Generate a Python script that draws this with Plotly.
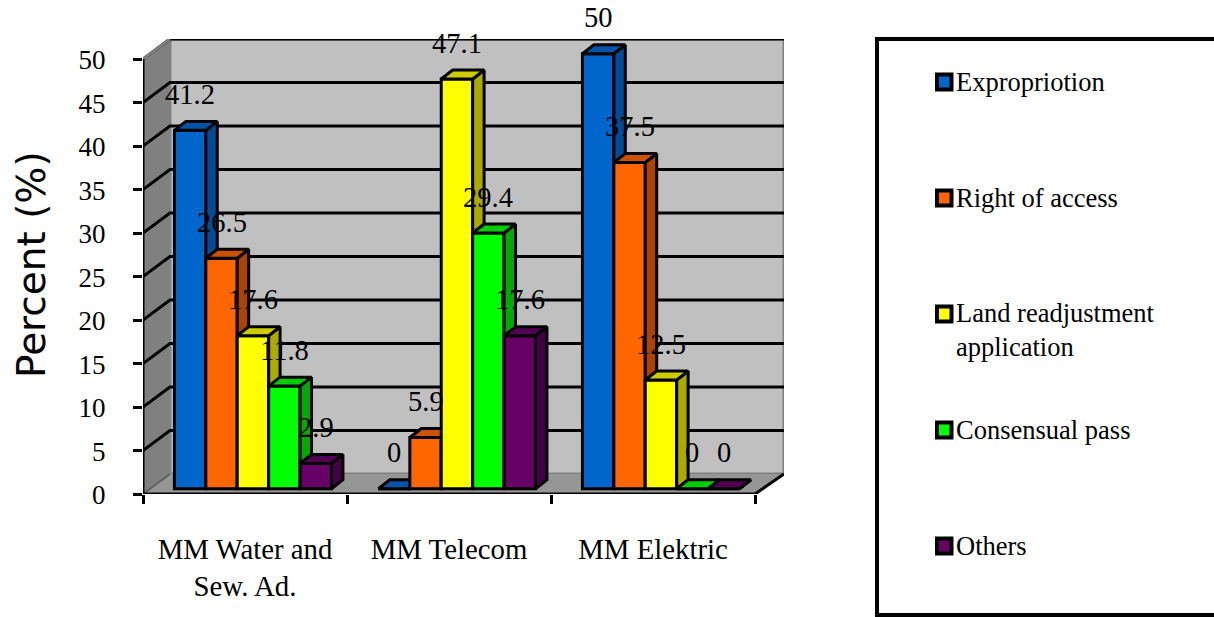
import plotly.graph_objects as go

W, H = 1214, 617

# Chart data
categories = ["MM Water and<br>Sew. Ad.", "MM Telecom", "MM Elektric"]
series_names = ["Expropriotion", "Right of access",
                "Land readjustment<br>application", "Consensual pass", "Others"]
expropriation = [41.2, 0, 50]
right_of_access = [26.5, 5.9, 37.5]
land_readjustment = [17.6, 47.1, 12.5]
consensual_pass = [11.8, 29.4, 0]
others = [2.9, 17.6, 0]
series_values = [expropriation, right_of_access, land_readjustment, consensual_pass, others]
y_ticks = [0, 5, 10, 15, 20, 25, 30, 35, 40, 45, 50]

# Face colours: front, top, side
front_colors = ["#0066CC", "#FF6600", "#FFFF00", "#00FF00", "#660066"]
top_colors = ["#0055AA", "#CC5200", "#CCCC00", "#00CC00", "#520052"]
side_colors = ["#004C99", "#AA4400", "#AAAA00", "#00AA00", "#440044"]

SERIF = "Liberation Serif"

# Projection constants in axis units
X_LO, X_HI = -0.5, 2.5
X_END = 2.642
Y_END = 52.3
WALL_DX, WALL_DY = 0.132, 2.3
BAR_W = 0.154
FRONT_DX, FRONT_DY = 0.039, 0.6
BAR_DX, BAR_DY = 0.056, 1.03
INK = "#000000"

fig = go.Figure()


def poly(xs, ys, fill, line="rgba(0,0,0,0)", width=0, **kw):
    return go.Scatter(x=xs, y=ys, mode="lines", fill="toself", fillcolor=fill,
                      line=dict(color=line, width=width), hoverinfo="skip",
                      showlegend=False, **kw)


def stroke(xs, ys, color=INK, width=3):
    return go.Scatter(x=xs, y=ys, mode="lines", line=dict(color=color, width=width),
                      hoverinfo="skip", showlegend=False, cliponaxis=False)


# Room: back wall, left wall, floor
bx0, by0, by1 = X_LO + WALL_DX, WALL_DY, Y_END
fig.add_trace(poly([bx0, X_END, X_END, bx0, bx0], [by0, by0, by1, by1, by0], "#C0C0C0",
                   line="#808080", width=3))
fig.add_trace(poly([X_LO, bx0, bx0, X_LO, X_LO], [0, by0, by1, 50, 0], "#808080"))
fig.add_trace(poly([X_LO, X_HI, X_END, bx0, X_LO], [0, 0, by0, by0, 0], "#969696"))

# Gridlines run across the left wall and the back wall
for v in y_ticks[1:]:
    fig.add_trace(stroke([X_LO, bx0, X_END], [v, v + WALL_DY, v + WALL_DY]))

# Room outline and axis lines
fig.add_trace(stroke([X_LO, bx0], [50, by1], color="#808080"))
fig.add_trace(stroke([X_LO, bx0], [0, by0], color="#606060", width=2))
fig.add_trace(stroke([X_HI, X_END], [0, by0]))
fig.add_trace(stroke([X_LO, X_LO], [0, 50]))
fig.add_trace(stroke([X_LO, X_HI], [0, 0]))

# Each series sits on its own overlaid axis pair, so a later bar covers
# the side face of the bar to its left.
annotations = []
for i, (name, values) in enumerate(zip(series_names, series_values)):
    n = i + 2
    xa, ya = f"x{n}", f"y{n}"
    lefts = [c + FRONT_DX + (i - 2.5) * BAR_W for c in range(len(categories))]
    centers = [l + BAR_W / 2 for l in lefts]
    fig.add_trace(go.Bar(x=centers, y=values, base=[FRONT_DY] * len(values), width=BAR_W,
                         name=name.replace("<br>", " "), xaxis=xa, yaxis=ya, showlegend=False,
                         marker=dict(color=front_colors[i], line=dict(color=INK, width=3))))
    top_x, top_y, side_x, side_y = [], [], [], []
    for l, v in zip(lefts, values):
        r = l + BAR_W
        t = FRONT_DY + v
        top_x += [l, l + BAR_DX, r + BAR_DX, r, l, None]
        top_y += [t, t + BAR_DY, t + BAR_DY, t, t, None]
        side_x += [r, r + BAR_DX, r + BAR_DX, r, r, None]
        side_y += [FRONT_DY, FRONT_DY + BAR_DY, t + BAR_DY, t, FRONT_DY, None]
    fig.add_trace(poly(side_x, side_y, side_colors[i], line=INK, width=3, xaxis=xa, yaxis=ya))
    fig.add_trace(poly(top_x, top_y, top_colors[i], line=INK, width=3, xaxis=xa, yaxis=ya))
    for c, v in zip(centers, values):
        annotations.append(dict(x=c, y=FRONT_DY + v, xref="x", yref="y", text=f"{v:g}",
                                showarrow=False, yshift=36, xanchor="center", yanchor="middle",
                                font=dict(family=SERIF, size=28.5, color="#000000")))

layout = dict(
    width=W, height=H, margin=dict(l=0, r=0, t=0, b=0, pad=0, autoexpand=False),
    paper_bgcolor="#FFFFFF", plot_bgcolor="rgba(0,0,0,0)", showlegend=False,
    barmode="overlay", autosize=False,
    xaxis=dict(domain=[143 / W, 784 / W], range=[X_LO, X_END], showgrid=False, zeroline=False,
               tickmode="array", tickvals=list(range(len(categories))), ticktext=categories,
               ticks="", ticklabelstandoff=35, tickfont=dict(family=SERIF, size=28.8, color="#000000"),
               minor=dict(tickmode="array", tickvals=[-0.5, 0.5, 1.5, 2.5], ticks="outside",
                          ticklen=9, tickwidth=3, tickcolor=INK, showgrid=False),
               anchor="y", fixedrange=True),
    yaxis=dict(domain=[1 - 494 / H, 1 - 39 / H], range=[0, Y_END], showgrid=False, zeroline=False,
               tickmode="array", tickvals=y_ticks, ticks="outside", ticklen=9, tickwidth=3,
               tickcolor=INK, ticklabelstandoff=22, ticklabelshift=1,
               tickfont=dict(family=SERIF, size=27, color="#000000"),
               anchor="x", fixedrange=True),
)
for i in range(len(series_names)):
    n = i + 2
    layout[f"xaxis{n}"] = dict(overlaying="x", range=[X_LO, X_END], visible=False, anchor=f"y{n}", fixedrange=True)
    layout[f"yaxis{n}"] = dict(overlaying="y", range=[0, Y_END], visible=False, anchor=f"x{n}", fixedrange=True)

# Axis title
annotations.append(dict(x=31 / W, y=1 - 265 / H, xref="paper", yref="paper", text="Percent (%)",
                        textangle=-90, showarrow=False, xanchor="center", yanchor="middle",
                        font=dict(family="DejaVu Sans", size=39, color="#000000")))

# Legend panel, cut off by the right edge of the page
shapes = [dict(type="rect", xref="paper", yref="paper", x0=877 / W, x1=1240 / W,
               y0=1 - 615 / H, y1=1 - 39 / H, line=dict(color=INK, width=4),
               fillcolor="#FFFFFF")]
for i, name in enumerate(series_names):
    cy = 82 + 116 * i
    shapes.append(dict(type="rect", xref="paper", yref="paper", x0=937 / W, x1=951.5 / W,
                       y0=1 - (cy + 7.5) / H, y1=1 - (cy - 7.5) / H,
                       line=dict(color=INK, width=4), fillcolor=front_colors[i]))
    text_cy = cy + 16 if "<br>" in name else cy
    annotations.append(dict(x=954 / W, y=1 - text_cy / H, xref="paper", yref="paper", text=name,
                            showarrow=False, xanchor="left", yanchor="middle", align="left",
                            font=dict(family=SERIF, size=26.5, color="#000000")))

layout["shapes"] = shapes
layout["annotations"] = annotations
fig.update_layout(**layout)
fig.write_html("out.html")
